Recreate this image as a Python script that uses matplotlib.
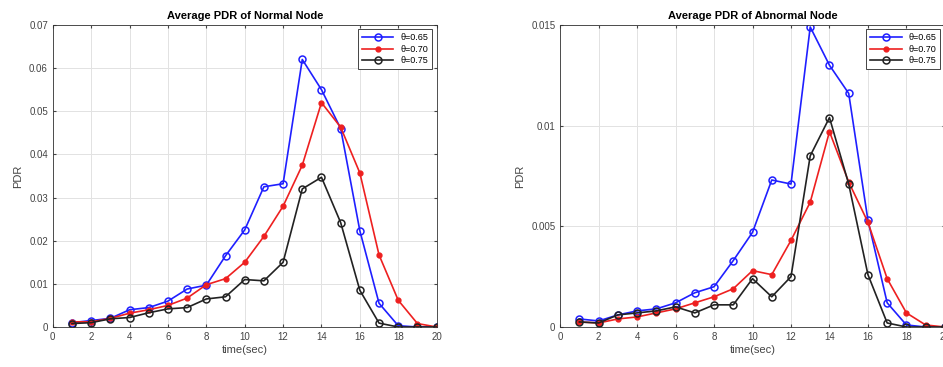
import matplotlib
matplotlib.use("Agg")
import matplotlib.pyplot as plt
from matplotlib.ticker import FuncFormatter, MultipleLocator

plt.rcParams['font.family'] = ['Liberation Sans', 'DejaVu Sans']

t = list(range(1, 21))
etiquetas = ['\u03b8=0.65', '\u03b8=0.70', '\u03b8=0.75']

# Nodo normal
normal_065 = [0.001, 0.0015, 0.002, 0.004, 0.0045, 0.006, 0.0088, 0.0097, 0.0165, 0.0225,
              0.0325, 0.0332, 0.062, 0.055, 0.046, 0.0223, 0.0055, 0.0003, 0.0, 0.0]
normal_070 = [0.0012, 0.0012, 0.002, 0.0032, 0.004, 0.005, 0.0067, 0.0098, 0.0112, 0.015,
              0.021, 0.028, 0.0375, 0.052, 0.0463, 0.0357, 0.0167, 0.0062, 0.0008, 0.0]
normal_075 = [0.0008, 0.001, 0.0019, 0.0022, 0.0033, 0.0042, 0.0045, 0.0065, 0.007, 0.011,
              0.0107, 0.015, 0.032, 0.0347, 0.0242, 0.0085, 0.0009, 0.0, 0.0, 0.0]

# Nodo anormal
anormal_065 = [0.0004, 0.0003, 0.0006, 0.0008, 0.0009, 0.0012, 0.0017, 0.002, 0.0033, 0.0047,
               0.0073, 0.0071, 0.0149, 0.013, 0.0116, 0.0053, 0.0012, 0.0001, 0.0, 0.0]
anormal_070 = [0.00025, 0.0002, 0.0004, 0.0005, 0.0007, 0.0009, 0.0012, 0.0015, 0.0019, 0.0028,
               0.0026, 0.0043, 0.0062, 0.0097, 0.0072, 0.0052, 0.0024, 0.0007, 0.0001, 0.0]
anormal_075 = [0.00025, 0.0002, 0.0006, 0.0007, 0.0008, 0.001, 0.0007, 0.0011, 0.0011, 0.0024,
               0.0015, 0.0025, 0.0085, 0.0104, 0.0071, 0.0026, 0.0002, 0.0, 0.0, 0.0]

fig = plt.figure(figsize=(9.43, 3.67), dpi=100)
ax1 = fig.add_axes([0.056, 0.109, 0.407, 0.823])
ax2 = fig.add_axes([0.594, 0.109, 0.408, 0.823])

fmt = FuncFormatter(lambda v, p: '%g' % round(v, 6))


def dibujar(ax, series, titulo, ymax, paso):
    b, r, k = series
    ax.plot(t, b, color='#1f1fff', marker='o', ms=5, mfc='none', mew=1.1, lw=1.2, label=etiquetas[0])
    ax.plot(t, r, color='#ee2020', marker='.', ms=7, lw=1.2, label=etiquetas[1])
    ax.plot(t, k, color='#222222', marker='o', ms=5, mfc='none', mew=1.1, lw=1.2, label=etiquetas[2])
    ax.set_xlim(0, 20)
    ax.set_ylim(0, ymax)
    ax.xaxis.set_major_locator(MultipleLocator(2))
    ax.yaxis.set_major_locator(MultipleLocator(paso))
    ax.yaxis.set_major_formatter(fmt)
    ax.grid(True, color='#e2e2e2', lw=0.7)
    ax.tick_params(labelsize=7, colors='#444444', length=2, direction='in', top=True, right=True)
    for s in ax.spines.values():
        s.set_color('#333333')
        s.set_linewidth(0.6)
    ax.set_title(titulo, fontsize=8, fontweight='bold', pad=4)
    ax.set_xlabel('time(sec)', fontsize=8, color='#444444', labelpad=2)
    ax.set_ylabel('PDR', fontsize=8, color='#444444', labelpad=4)
    leg = ax.legend(loc='upper right', fontsize=6.5, fancybox=False, framealpha=1,
                    handlelength=3.5, borderpad=0.4, labelspacing=0.3)
    leg.get_frame().set_edgecolor('#444444')
    leg.get_frame().set_linewidth(0.7)


dibujar(ax1, (normal_065, normal_070, normal_075), 'Average PDR of Normal Node', 0.07, 0.01)
dibujar(ax2, (anormal_065, anormal_070, anormal_075), 'Average PDR of Abnormal Node', 0.015, 0.005)

fig.savefig('out.png', dpi=100)
